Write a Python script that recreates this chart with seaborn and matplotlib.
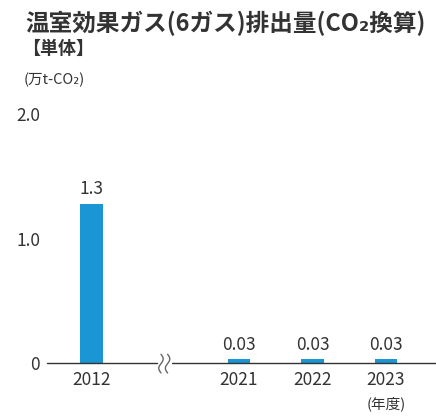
import numpy as np
import pandas as pd
import matplotlib
matplotlib.use("Agg")
import matplotlib.pyplot as plt
import seaborn as sns

years = ["2012", "", "2021", "2022", "2023"]
values = [1.28, np.nan, 0.03, 0.03, 0.03]
labels = ["1.3", "", "0.03", "0.03", "0.03"]
yticks = [0, 1.0, 2.0]
ytick_labels = ["0", "1.0", "2.0"]

sns.set_style("white")
plt.rcParams["font.family"] = ["Noto Sans CJK JP", "DejaVu Sans"]

df = pd.DataFrame({"year": years, "value": values})

fig = plt.figure(figsize=(4.36, 4.16), dpi=100)
ax = fig.add_axes([47/436, (416-363)/416, 1 - 47/436, (363-114)/416])

sns.barplot(data=df, x="year", y="value", order=years, color="#1a96d4",
            width=0.31, saturation=1, ax=ax, errorbar=None, linewidth=0)

ax.set_ylim(0, 2.0)
ax.set_xlim(-0.61, 4.68)
for s in ax.spines.values():
    s.set_visible(False)
ax.set_xlabel("")
ax.set_ylabel("")
ax.set_yticks(yticks)
ax.set_yticklabels(ytick_labels)
ax.tick_params(axis="both", length=0, labelsize=12.5, colors="#333333")
ax.tick_params(axis="y", pad=5)
ax.tick_params(axis="x", pad=6)

# baseline with break gap
xl = ax.get_xlim()
gx0, gx1 = 0.88, 1.09
f0 = (gx0 - xl[0]) / (xl[1] - xl[0])
f1 = (gx1 - xl[0]) / (xl[1] - xl[0])
ax.axhline(0, xmin=0, xmax=f0, color="#333333", lw=1.0, clip_on=False, zorder=5)
ax.axhline(0, xmin=f1, xmax=1, color="#333333", lw=1.0, clip_on=False, zorder=5)
t = np.linspace(0, 1, 60)
for off in (-0.045, 0.045):
    xs = 0.985 + off + 0.03 * np.sin(t * 2 * np.pi)
    ys = 0.07 - t * 0.15
    ax.plot(xs, ys, color="#666666", lw=1.0, clip_on=False, zorder=6)

# value labels
for i, (v, lab) in enumerate(zip(values, labels)):
    if lab:
        ax.text(i, v + 0.045, lab, ha="center", va="bottom", fontsize=12.5,
                color="#333333")

# fiscal year note
ax.text(4, -0.27, "(年度)", ha="center", va="top", fontsize=10.5,
        color="#333333")

fig.text(25/436, 1 - 23/416, "温室効果ガス(6ガス)排出量(CO₂換算)",
         ha="left", va="center", fontsize=17, fontweight="bold",
         color="#333333")
fig.text(22/436, 1 - 48/416, "【単体】", ha="left", va="center",
         fontsize=13, fontweight="bold", color="#333333")
fig.text(24/436, 1 - 80/416, "(万t-CO₂)", ha="left", va="center",
         fontsize=10.5, color="#333333")

fig.savefig("out.png", dpi=100)
